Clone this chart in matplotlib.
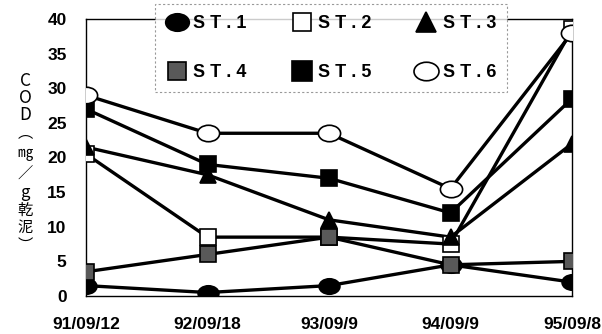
import matplotlib
matplotlib.use("Agg")
import matplotlib.pyplot as plt
from matplotlib.lines import Line2D
from matplotlib.path import Path
from matplotlib.transforms import Affine2D

# Data
dates = ["91/09/12", "92/09/18", "93/09/9", "94/09/9", "95/09/8"]
st1 = [1.5, 0.5, 1.5, 4.5, 2.0]
st2 = [20.5, 8.5, 8.5, 7.5, 38.5]
st3 = [21.5, 17.5, 11.0, 8.5, 22.0]
st4 = [3.5, 6.0, 8.5, 4.5, 5.0]
st5 = [27.0, 19.0, 17.0, 12.0, 28.5]
st6 = [29.0, 23.5, 23.5, 15.5, 38.0]
names = ["S T . 1", "S T . 2", "S T . 3", "S T . 4", "S T . 5", "S T . 6"]
yticks = [0, 5, 10, 15, 20, 25, 30, 35, 40]

ellipse = Path.unit_circle().transformed(Affine2D().scale(1.35, 1.0))

# marker, face colour, size
styles = [
    (ellipse, "black", 15),
    ("s", "white", 11),
    ("^", "black", 12),
    ("s", "0.35", 11),
    ("s", "black", 12),
    (ellipse, "white", 16),
]

fig = plt.figure(figsize=(6.02, 3.34), dpi=100)
ax = fig.add_axes([0.1429, 0.1138, 0.8073, 0.8293])
x = list(range(len(dates)))

series = [st1, st2, st3, st4, st5, st6]
for vals, (m, fc, ms) in zip(series, styles):
    ax.plot(x, vals, color="black", lw=2.4, zorder=2)
    ax.plot(x, vals, ls="none", marker=m, ms=ms, mfc=fc, mec="black",
            mew=1.2, zorder=3)

ax.set_xlim(0, 4)
ax.set_ylim(0, 40)
ax.set_yticks(yticks)
ax.set_xticks(x)
ax.set_xticklabels(dates)
ax.tick_params(length=0, labelsize=12.5, pad=15)
ax.tick_params(axis="y", pad=14)
for lab in ax.get_xticklabels() + ax.get_yticklabels():
    lab.set_fontweight("bold")
    lab.set_fontfamily("Liberation Sans")
for sp in ax.spines.values():
    sp.set_linewidth(1.0)

# legend filled row by row (ST.1 ST.2 ST.3 / ST.4 ST.5 ST.6)
order = [0, 3, 1, 4, 2, 5]
handles = [Line2D([], [], ls="none", marker=styles[i][0], ms=styles[i][2] + 2,
                  mfc=styles[i][1], mec="black", mew=1.2) for i in order]
labels = [names[i] for i in order]
leg = ax.legend(handles, labels, ncol=3, loc="upper left",
                bbox_to_anchor=(0.124, 1.085), frameon=True, fancybox=False,
                borderpad=0.6, handletextpad=0.3, columnspacing=2.45,
                labelspacing=1.75, handlelength=1.2,
                prop={"family": "Liberation Sans", "weight": "bold",
                      "size": 13})
frame = leg.get_frame()
frame.set_edgecolor("0.5")
frame.set_linestyle((0, (2, 2)))
frame.set_linewidth(0.8)
leg.set_zorder(5)

# vertical y-axis title, one glyph per line
ylab_chars = ["C", "O", "D", "︵", "㎎", "／", "g", "乾", "泥", "︶"]
ylab_pix = [81, 98, 115, 133, 153, 174, 193, 210, 227, 245]
ylab_size = [12.5, 12.5, 12.5, 11, 11, 11, 12, 11, 11, 11]
for ch, py, fs in zip(ylab_chars, ylab_pix, ylab_size):
    fig.text(0.042, 1 - py / 334, ch, ha="center", va="center", fontsize=fs,
             family=["Noto Sans CJK JP", "DejaVu Sans"])

fig.savefig("out.png", dpi=100)
